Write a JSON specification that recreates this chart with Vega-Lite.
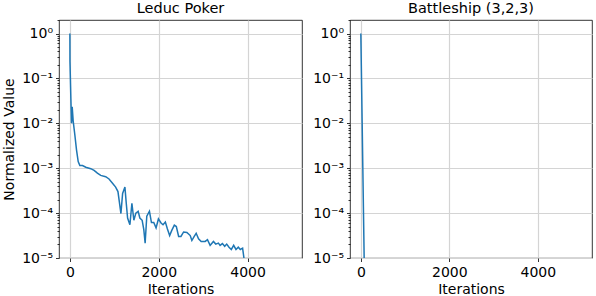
{
  "$schema": "https://vega.github.io/schema/vega-lite/v6.json",
  "padding": {"left": 2, "top": 0, "right": 3, "bottom": 0},
  "background": "white",
  "config": {
    "font": "DejaVu Sans",
    "view": {"stroke": "#000000", "strokeWidth": 0.8},
    "title": {"fontSize": 14.5, "fontWeight": "normal", "font": "DejaVu Sans", "color": "#000000", "offset": -3},
    "axis": {
      "domain": false,
      "labelFont": "DejaVu Sans",
      "labelFontSize": 14,
      "labelColor": "#000000",
      "titleFont": "DejaVu Sans",
      "titleFontSize": 14,
      "titleFontWeight": "normal",
      "titleColor": "#000000",
      "tickColor": "#000000",
      "tickWidth": 0.8,
      "gridColor": "#d4d4d4",
      "gridWidth": 1.2
    }
  },
  "datasets": {
    "leduc": [
      {"iter": 0, "value": 1},
      {"iter": 2, "value": 0.234},
      {"iter": 22, "value": 0.0363},
      {"iter": 37, "value": 0.01},
      {"iter": 52, "value": 0.0234},
      {"iter": 75, "value": 0.011},
      {"iter": 112, "value": 0.0055},
      {"iter": 149, "value": 0.00257},
      {"iter": 187, "value": 0.00141},
      {"iter": 224, "value": 0.00115},
      {"iter": 284, "value": 0.00115},
      {"iter": 358, "value": 0.00105},
      {"iter": 470, "value": 0.000977},
      {"iter": 545, "value": 0.000891},
      {"iter": 619, "value": 0.000776},
      {"iter": 694, "value": 0.000692},
      {"iter": 806, "value": 0.000646},
      {"iter": 881, "value": 0.000575},
      {"iter": 955, "value": 0.000468},
      {"iter": 1030, "value": 0.00038},
      {"iter": 1082, "value": 0.000302},
      {"iter": 1112, "value": 0.000182},
      {"iter": 1149, "value": 0.0000977},
      {"iter": 1187, "value": 0.000275},
      {"iter": 1239, "value": 0.00038},
      {"iter": 1269, "value": 0.000166},
      {"iter": 1299, "value": 0.0000776},
      {"iter": 1351, "value": 0.000055},
      {"iter": 1396, "value": 0.000166},
      {"iter": 1440, "value": 0.0000692},
      {"iter": 1485, "value": 0.0001},
      {"iter": 1537, "value": 0.00011},
      {"iter": 1575, "value": 0.0000776},
      {"iter": 1627, "value": 0.0000692},
      {"iter": 1664, "value": 0.0000427},
      {"iter": 1694, "value": 0.0000214},
      {"iter": 1731, "value": 0.0000851},
      {"iter": 1791, "value": 0.00011},
      {"iter": 1836, "value": 0.0000617},
      {"iter": 1888, "value": 0.0000617},
      {"iter": 1940, "value": 0.0000468},
      {"iter": 1993, "value": 0.0000741},
      {"iter": 2052, "value": 0.0000603},
      {"iter": 2097, "value": 0.000055},
      {"iter": 2149, "value": 0.0000631},
      {"iter": 2194, "value": 0.0000447},
      {"iter": 2246, "value": 0.0000316},
      {"iter": 2291, "value": 0.0000407},
      {"iter": 2351, "value": 0.0000537},
      {"iter": 2396, "value": 0.0000501},
      {"iter": 2448, "value": 0.0000302},
      {"iter": 2500, "value": 0.0000302},
      {"iter": 2560, "value": 0.000038},
      {"iter": 2634, "value": 0.0000372},
      {"iter": 2709, "value": 0.0000316},
      {"iter": 2746, "value": 0.0000245},
      {"iter": 2799, "value": 0.0000302},
      {"iter": 2843, "value": 0.0000355},
      {"iter": 2896, "value": 0.0000269},
      {"iter": 2955, "value": 0.0000234},
      {"iter": 3045, "value": 0.0000234},
      {"iter": 3097, "value": 0.0000257},
      {"iter": 3157, "value": 0.0000191},
      {"iter": 3231, "value": 0.0000234},
      {"iter": 3284, "value": 0.0000204},
      {"iter": 3343, "value": 0.0000214},
      {"iter": 3381, "value": 0.0000191},
      {"iter": 3433, "value": 0.0000209},
      {"iter": 3485, "value": 0.0000182},
      {"iter": 3530, "value": 0.0000204},
      {"iter": 3582, "value": 0.0000174},
      {"iter": 3634, "value": 0.0000155},
      {"iter": 3687, "value": 0.0000191},
      {"iter": 3739, "value": 0.0000155},
      {"iter": 3791, "value": 0.0000174},
      {"iter": 3836, "value": 0.0000155},
      {"iter": 3888, "value": 0.0000166},
      {"iter": 3918, "value": 0.00001},
      {"iter": 3933, "value": 0.0000071}
    ],
    "battleship": [
      {"iter": 0, "value": 1},
      {"iter": 15, "value": 0.1},
      {"iter": 30, "value": 0.01},
      {"iter": 45, "value": 0.001},
      {"iter": 60, "value": 0.0001},
      {"iter": 75, "value": 0.00001},
      {"iter": 80, "value": 0.000005}
    ]
  },
  "hconcat": [
    {
      "title": "Leduc Poker",
      "width": 243,
      "height": 238,
      "data": {"name": "leduc"},
      "mark": {"type": "line", "color": "#1f77b4", "strokeWidth": 1.5, "clip": true},
      "encoding": {
        "x": {
          "field": "iter", "type": "quantitative", "title": "Iterations",
          "scale": {"domain": [-245, 5225], "nice": false, "zero": false},
          "axis": {"values": [0, 2000, 4000], "format": "d", "tickSize": 3.5, "labelPadding": 4, "titlePadding": 3}
        },
        "y": {
          "field": "value", "type": "quantitative", "title": "Normalized Value",
          "scale": {"type": "log", "domain": [0.00001, 2], "nice": false},
          "axis": {
            "values": [0.00001, 0.00002, 0.00003, 0.00004, 0.00005, 0.00006, 0.00007, 0.00008, 0.00009, 0.0001, 0.0002, 0.0003, 0.0004, 0.0005, 0.0006, 0.0007, 0.0008, 0.0009, 0.001, 0.002, 0.003, 0.004, 0.005, 0.006, 0.007, 0.008, 0.009, 0.01, 0.02, 0.03, 0.04, 0.05, 0.06, 0.07, 0.08, 0.09, 0.1, 0.2, 0.3, 0.4, 0.5, 0.6, 0.7, 0.8, 0.9, 1, 2],
            "labelOverlap": false,
            "labelFlush": false,
            "labelPadding": 3,
            "titlePadding": 5,
            "labelExpr": "abs(log(datum.value)/LN10 - round(log(datum.value)/LN10)) < 0.000001 ? ['10⁰','10⁻¹','10⁻²','10⁻³','10⁻⁴','10⁻⁵'][round(-log(datum.value)/LN10)] : ''",
            "tickSize": {"condition": {"test": "abs(log(datum.value)/LN10 - round(log(datum.value)/LN10)) < 0.000001", "value": 3.5}, "value": 2},
            "gridOpacity": {"condition": {"test": "abs(log(datum.value)/LN10 - round(log(datum.value)/LN10)) < 0.000001", "value": 1}, "value": 0}
          }
        }
      }
    },
    {
      "title": "Battleship (3,2,3)",
      "width": 242,
      "height": 238,
      "data": {"name": "battleship"},
      "mark": {"type": "line", "color": "#1f77b4", "strokeWidth": 1.5, "clip": true},
      "encoding": {
        "x": {
          "field": "iter", "type": "quantitative", "title": "Iterations",
          "scale": {"domain": [-245, 5225], "nice": false, "zero": false},
          "axis": {"values": [0, 2000, 4000], "format": "d", "tickSize": 3.5, "labelPadding": 4, "titlePadding": 3}
        },
        "y": {
          "field": "value", "type": "quantitative", "title": null,
          "scale": {"type": "log", "domain": [0.00001, 2], "nice": false},
          "axis": {
            "values": [0.00001, 0.00002, 0.00003, 0.00004, 0.00005, 0.00006, 0.00007, 0.00008, 0.00009, 0.0001, 0.0002, 0.0003, 0.0004, 0.0005, 0.0006, 0.0007, 0.0008, 0.0009, 0.001, 0.002, 0.003, 0.004, 0.005, 0.006, 0.007, 0.008, 0.009, 0.01, 0.02, 0.03, 0.04, 0.05, 0.06, 0.07, 0.08, 0.09, 0.1, 0.2, 0.3, 0.4, 0.5, 0.6, 0.7, 0.8, 0.9, 1, 2],
            "labelOverlap": false,
            "labelFlush": false,
            "labelPadding": 3,
            "labelExpr": "abs(log(datum.value)/LN10 - round(log(datum.value)/LN10)) < 0.000001 ? ['10⁰','10⁻¹','10⁻²','10⁻³','10⁻⁴','10⁻⁵'][round(-log(datum.value)/LN10)] : ''",
            "tickSize": {"condition": {"test": "abs(log(datum.value)/LN10 - round(log(datum.value)/LN10)) < 0.000001", "value": 3.5}, "value": 2},
            "gridOpacity": {"condition": {"test": "abs(log(datum.value)/LN10 - round(log(datum.value)/LN10)) < 0.000001", "value": 1}, "value": 0}
          }
        }
      }
    }
  ],
  "spacing": 48,
  "bounds": "flush"
}
